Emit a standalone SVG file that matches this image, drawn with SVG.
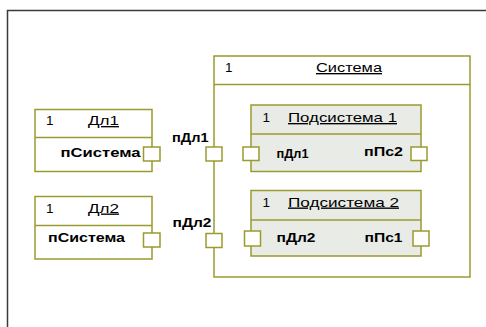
<svg xmlns="http://www.w3.org/2000/svg" width="486" height="327" viewBox="0 0 486 327">
  <style>
    .box { fill: #ffffff; stroke: #9a9a2e; stroke-width: 1.5; }
    .sub { fill: #e9ebe7; stroke: #9a9a2e; stroke-width: 1.5; }
    .div { stroke: #9a9a2e; stroke-width: 1.5; fill: none; }
    .port { fill: #ffffff; stroke: #9a9a2e; stroke-width: 1.5; }
    text { font-family: "Liberation Sans", Arial, sans-serif; font-size: 13.5px; fill: #000000; }
    .hdr { text-decoration: underline; }
    .lbl { font-weight: bold; }
  </style>
  <rect x="0" y="0" width="486" height="327" fill="#ffffff"/>
  <path d="M7.5,327 V10.5 H486" fill="none" stroke="#3a3a3a" stroke-width="1.5"/>

  <g id="connectors"></g>

  <g id="sistema">
    <rect class="box" x="214" y="56" width="256" height="221"/>
    <line class="div" x1="214" y1="84.5" x2="470" y2="84.5"/>
    <text x="225" y="72">1</text>
    <text class="hdr" x="316" y="72" textLength="66" lengthAdjust="spacingAndGlyphs">Система</text>
  </g>

  <g id="podsistema1">
    <rect class="sub" x="251" y="105" width="170" height="66.5"/>
    <line class="div" x1="251" y1="134" x2="421" y2="134"/>
    <text x="262.5" y="122">1</text>
    <text class="hdr" x="288" y="122" textLength="109" lengthAdjust="spacingAndGlyphs">Подсистема 1</text>
    <text class="lbl" x="276.5" y="157.5" textLength="32" lengthAdjust="spacingAndGlyphs">пДл1</text>
    <text class="lbl" x="364" y="155.5" textLength="39" lengthAdjust="spacingAndGlyphs">пПс2</text>
  </g>

  <g id="podsistema2">
    <rect class="sub" x="251" y="190.5" width="170" height="65.5"/>
    <line class="div" x1="251" y1="220" x2="421" y2="220"/>
    <text x="262.5" y="206.5">1</text>
    <text class="hdr" x="288" y="206.5" textLength="111" lengthAdjust="spacingAndGlyphs">Подсистема 2</text>
    <text class="lbl" x="276.5" y="241.5" textLength="39" lengthAdjust="spacingAndGlyphs">пДл2</text>
    <text class="lbl" x="364.5" y="241.5" textLength="38" lengthAdjust="spacingAndGlyphs">пПс1</text>
  </g>

  <g id="dl1">
    <rect class="box" x="35" y="109.5" width="117" height="62"/>
    <line class="div" x1="35" y1="137.5" x2="152" y2="137.5"/>
    <text x="46" y="125">1</text>
    <text class="hdr" x="88" y="125" textLength="31" lengthAdjust="spacingAndGlyphs">Дл1</text>
    <text class="lbl" x="60.5" y="157" textLength="80" lengthAdjust="spacingAndGlyphs">пСистема</text>
  </g>

  <g id="dl2">
    <rect class="box" x="35" y="196.5" width="117" height="62.5"/>
    <line class="div" x1="35" y1="225.5" x2="152" y2="225.5"/>
    <text x="46" y="212.5">1</text>
    <text class="hdr" x="88" y="212.5" textLength="31" lengthAdjust="spacingAndGlyphs">Дл2</text>
    <text class="lbl" x="48" y="241.5" textLength="77" lengthAdjust="spacingAndGlyphs">пСистема</text>
  </g>

  <g id="port-dl1-psistema">
    <rect class="port" x="143.5" y="147" width="16.5" height="14"/>
  </g>
  <g id="port-dl2-psistema">
    <rect class="port" x="143.5" y="233" width="16.5" height="14"/>
  </g>
  <g id="port-sistema-pdl1">
    <rect class="port" x="206" y="147" width="16" height="14"/>
    <text class="lbl" x="172" y="141.5" textLength="36.5" lengthAdjust="spacingAndGlyphs">пДл1</text>
  </g>
  <g id="port-sistema-pdl2">
    <rect class="port" x="206" y="233.5" width="16" height="14"/>
    <text class="lbl" x="172.5" y="226.5" textLength="39" lengthAdjust="spacingAndGlyphs">пДл2</text>
  </g>
  <g id="port-ps1-pdl1">
    <rect class="port" x="243" y="147" width="16" height="13.5"/>
  </g>
  <g id="port-ps1-pps2">
    <rect class="port" x="411" y="147" width="16" height="13.5"/>
  </g>
  <g id="port-ps2-pdl2">
    <rect class="port" x="244.5" y="231" width="16" height="15"/>
  </g>
  <g id="port-ps2-pps1">
    <rect class="port" x="413" y="231" width="16" height="15"/>
  </g>
</svg>
